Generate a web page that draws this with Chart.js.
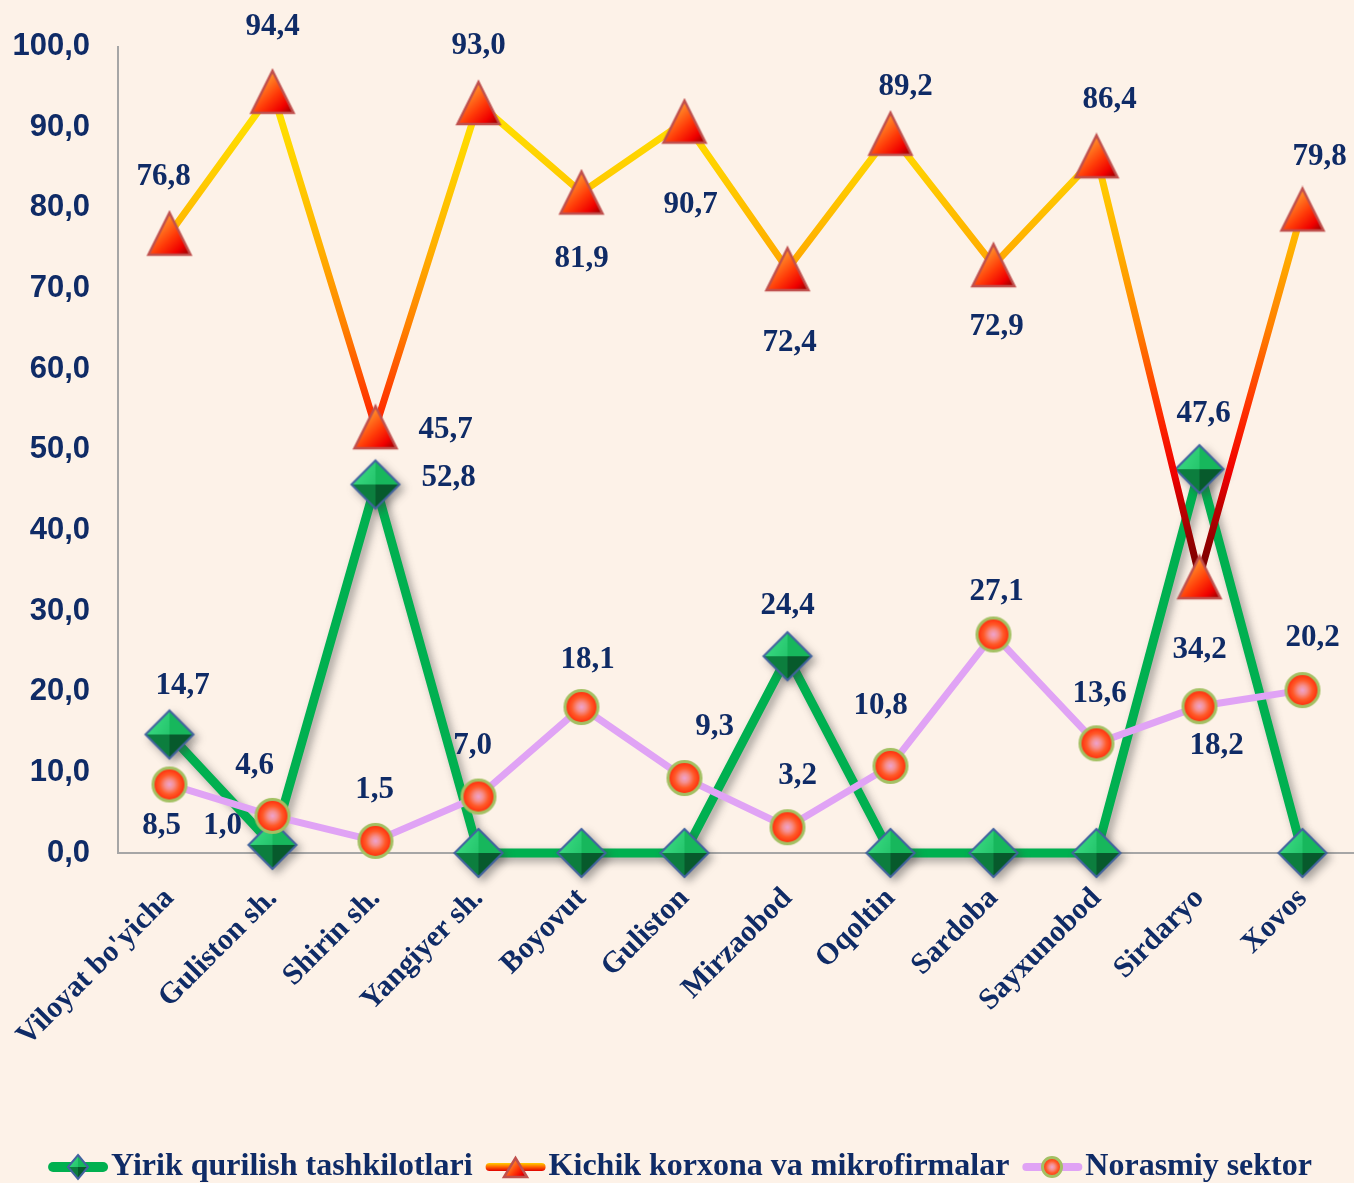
<!DOCTYPE html>
<html><head><meta charset="utf-8">
<script src="https://cdn.jsdelivr.net/npm/chart.js@4"></script>
<style>html,body{margin:0;padding:0;background:#FDF2E8;overflow:hidden}#wrap{width:1354px;height:1183px}</style>
</head><body><div id="wrap"><canvas id="c" width="1354" height="1183"></canvas></div>
<script>
// ---------- DATA ----------
const categories = ["Viloyat bo'yicha","Guliston sh.","Shirin sh.","Yangiyer sh.","Boyovut","Guliston","Mirzaobod","Oqoltin","Sardoba","Sayxunobod","Sirdaryo","Xovos"];
const yirik    = [14.7, 1.0, 45.7, 0, 0, 0, 24.4, 0, 0, 0, 47.6, 0];
const kichik   = [76.8, 94.4, 52.8, 93.0, 81.9, 90.7, 72.4, 89.2, 72.9, 86.4, 34.2, 79.8];
const norasmiy = [8.5, 4.6, 1.5, 7.0, 18.1, 9.3, 3.2, 10.8, 27.1, 13.6, 18.2, 20.2];
const seriesNames = ["Yirik qurilish tashkilotlari","Kichik korxona va mikrofirmalar","Norasmiy sektor"];
const yTickValues = [0,10,20,30,40,50,60,70,80,90,100];

// ---------- LABEL LAYOUT (pixel offsets from point; null = no label) ----------
const labelOffsets = [
  [[13,-48],[-50,-19],[70,-54],null,null,null,[0,-50],null,null,null,[4,-55],null],
  [[-6,-57],[0,-65],[73,51],[0,-57],[0,66],[6,83],[2,74],[15,-47],[3,62],[13,-56],[0,73],[17,-53]],
  [[-8,42],[-18,-50],[-1,-51],[-6,-51],[6,-47],[30,-51],[10,-51],[-10,-60],[3,-42],[3,-49],[17,40],[10,-52]]
];

const TEXT = '#0F2B66';
const BG = '#FDF2E8';
const fmt = v => v.toFixed(1).replace('.', ',');

// ---------- MARKERS ----------
function makeDiamond(rx, ry){
  ry = ry || rx;
  const sw = 2*rx+8, sh = 2*ry+8, cv = document.createElement('canvas'); cv.width = sw; cv.height = sh;
  const g = cv.getContext('2d'); const cx = sw/2, cy = sh/2;
  const T=[cx,cy-ry], R=[cx+rx,cy], B=[cx,cy+ry], L=[cx-rx,cy], C=[cx,cy];
  function facet(a,b,col){ g.beginPath(); g.moveTo(a[0],a[1]); g.lineTo(b[0],b[1]); g.lineTo(C[0],C[1]); g.closePath(); g.fillStyle=col; g.fill(); }
  const gt = g.createLinearGradient(cx-rx,cy-ry,cx+rx,cy);
  gt.addColorStop(0,'#3FE088'); gt.addColorStop(1,'#14B45A');
  facet(L,T,gt); facet(T,R,'#17B75C'); facet(L,B,'#0C7E3E'); facet(B,R,'#075A2C');
  g.beginPath(); g.moveTo(T[0],T[1]); g.lineTo(R[0],R[1]); g.lineTo(B[0],B[1]); g.lineTo(L[0],L[1]); g.closePath();
  g.lineWidth = 2; g.strokeStyle = '#42639F'; g.stroke();
  return cv;
}
function makeTriangle(w,h){
  const sw = w+6, sh = h+6, cv = document.createElement('canvas'); cv.width = sw; cv.height = sh;
  const g = cv.getContext('2d'); const cx = sw/2, top = 3, bot = 3+h;
  g.beginPath(); g.moveTo(cx,top); g.lineTo(cx+w/2,bot); g.lineTo(cx-w/2,bot); g.closePath();
  const gr = g.createLinearGradient(cx-w/4,top+h*0.2,cx+w/2,bot);
  gr.addColorStop(0,'#FF9A2E'); gr.addColorStop(0.45,'#FF3A08'); gr.addColorStop(0.75,'#F00000'); gr.addColorStop(1,'#8A0000');
  g.fillStyle = gr; g.fill();
  g.lineWidth = 2.5; g.strokeStyle = '#C0504D'; g.lineJoin='miter'; g.stroke();
  return cv;
}
function makeCircle(r){
  const s = 2*r+6, cv = document.createElement('canvas'); cv.width = cv.height = s;
  const g = cv.getContext('2d'); const c = s/2;
  const gr = g.createRadialGradient(c,c,0,c,c,r);
  gr.addColorStop(0,'#EFA3D0'); gr.addColorStop(0.25,'#F59090'); gr.addColorStop(0.55,'#FF5A28'); gr.addColorStop(1,'#FF1A00');
  g.beginPath(); g.arc(c,c,r-1.5,0,Math.PI*2); g.fillStyle = gr; g.fill();
  g.lineWidth = 3; g.strokeStyle = '#A3C063'; g.stroke();
  return cv;
}
const diamondImg = makeDiamond(24), triImg = makeTriangle(42,42), circImg = makeCircle(18);
const diamondSm = makeDiamond(10,12), triSm = makeTriangle(23,19), circSm = makeCircle(11);

function orangeGradient(context){
  const ch = context.chart; if (!ch.chartArea) return '#FFC000';
  const y = ch.scales.y;
  const g = ch.ctx.createLinearGradient(0, y.getPixelForValue(95), 0, y.getPixelForValue(34));
  g.addColorStop(0,'#FFE800'); g.addColorStop(0.164,'#FFD000'); g.addColorStop(0.328,'#FFB000');
  g.addColorStop(0.49,'#FF8000'); g.addColorStop(0.656,'#FF3000'); g.addColorStop(0.787,'#F00000');
  g.addColorStop(0.9,'#A00000'); g.addColorStop(1,'#700000');
  return g;
}

// ---------- PLUGINS ----------
const bgPlugin = { id:'bg', beforeDraw(ch){ const c=ch.ctx; c.save(); c.fillStyle=BG; c.fillRect(0,0,ch.width,ch.height); c.restore(); } };
const shadowPlugin = {
  id:'shadow',
  beforeDatasetDraw(ch,args){ if(args.index===0){ const c=ch.ctx; c.save(); c.shadowColor='rgba(60,60,60,0.45)'; c.shadowBlur=8; c.shadowOffsetX=4; c.shadowOffsetY=4; } },
  afterDatasetDraw(ch,args){ if(args.index===0){ ch.ctx.restore(); } }
};
const labelPlugin = {
  id:'vlabels',
  afterDatasetsDraw(ch){
    const c = ch.ctx; c.save();
    c.font = 'bold 31px "Liberation Serif"'; c.fillStyle = TEXT; c.textAlign='center'; c.textBaseline='middle';
    ch.data.datasets.forEach((ds,di)=>{
      const meta = ch.getDatasetMeta(di);
      meta.data.forEach((pt,i)=>{
        const off = labelOffsets[di][i]; if(!off) return;
        c.fillText(fmt(ds.data[i]), pt.x+off[0], pt.y+off[1]);
      });
    });
    c.restore();
  }
};
const legendPlugin = {
  id:'customLegend',
  afterDraw(ch){
    const c = ch.ctx; c.save();
    c.font = 'bold 32px "Liberation Serif"'; c.textBaseline='middle'; c.textAlign='left';
    const lineLen = 60, gap = 3, itemGap = 13, y = 1167;
    const styles = [
      {col:'#00B050', w:10, img:diamondSm},
      {col:null, w:8, img:triSm},
      {col:'#E0A3F5', w:8, img:circSm}
    ];
    const widths = seriesNames.map(n=>c.measureText(n).width);
    let total = 0; widths.forEach((w,i)=>{ total += lineLen+gap+w + (i<2?itemGap:0); });
    let x = (ch.width - total)/2 + 3;
    seriesNames.forEach((n,i)=>{
      const st = styles[i];
      c.lineCap='round';
      if (st.col){ c.strokeStyle = st.col; }
      else { const g=c.createLinearGradient(0,y-4,0,y+4); g.addColorStop(0,'#FFD000'); g.addColorStop(0.5,'#FF6000'); g.addColorStop(1,'#E00000'); c.strokeStyle=g; }
      c.lineWidth = st.w;
      c.beginPath(); c.moveTo(x+st.w/2, y); c.lineTo(x+lineLen-st.w/2, y); c.stroke();
      c.drawImage(st.img, Math.round(x+lineLen/2-st.img.width/2), Math.round(y-st.img.height/2));
      c.fillStyle = TEXT;
      c.fillText(n, x+lineLen+gap, y);
      x += lineLen+gap+widths[i]+itemGap;
    });
    c.restore();
  }
};

// ---------- CHART ----------
new Chart(document.getElementById('c'), {
  type:'line',
  data:{
    labels: categories,
    datasets:[
      {label:seriesNames[0], data:yirik, borderColor:'#00B050', borderWidth:9, pointStyle:diamondImg, pointRadius:20, tension:0, clip:false, order:3, fill:false},
      {label:seriesNames[1], data:kichik, borderColor:orangeGradient, borderWidth:7, pointStyle:triImg, pointRadius:20, tension:0, clip:false, order:2, fill:false},
      {label:seriesNames[2], data:norasmiy, borderColor:'#E0A3F5', borderWidth:7, pointStyle:circImg, pointRadius:18, tension:0, clip:false, order:1, fill:false}
    ]
  },
  options:{
    responsive:false, animation:false, events:[],
    layout:{autoPadding:false, padding:{top:45,left:0,right:0,bottom:0}},
    plugins:{legend:{display:false}, tooltip:{enabled:false}},
    scales:{
      x:{
        offset:true,
        grid:{display:false, drawTicks:true, tickLength:28, tickColor:'rgba(0,0,0,0)'},
        border:{color:'#A6A6A6', width:2},
        ticks:{font:{family:'Liberation Serif', weight:'bold', size:30}, color:TEXT, maxRotation:45, minRotation:45, padding:0, autoSkip:false},
        afterFit(s){ s.height = 330; s.paddingLeft = 0; s.paddingRight = 0; }
      },
      y:{
        min:0, max:100,
        afterBuildTicks(s){ s.ticks = yTickValues.map(v=>({value:v})); },
        grid:{display:false, drawTicks:false},
        border:{color:'#A6A6A6', width:2},
        ticks:{callback:v=>fmt(v), font:{family:'Liberation Sans', weight:'bold', size:31}, color:TEXT, padding:28},
        afterFit(s){ s.width = 118; }
      }
    }
  },
  plugins:[bgPlugin, shadowPlugin, labelPlugin, legendPlugin]
});
</script></body></html>
